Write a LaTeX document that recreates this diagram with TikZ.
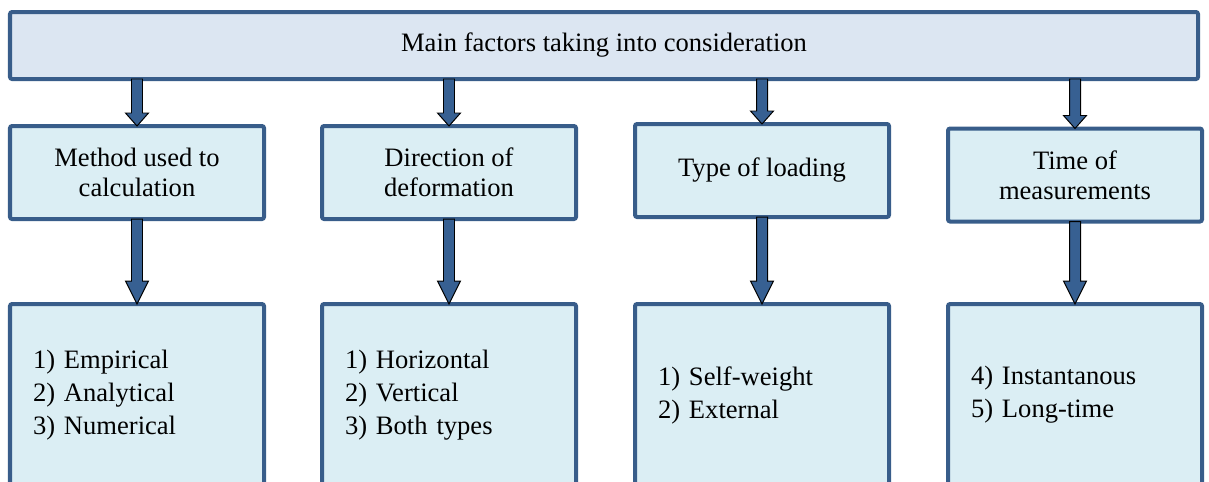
\documentclass[tikz,border=0pt]{standalone}
\usepackage{fontspec}
\IfFontExistsTF{LiberationSerif-Regular.ttf}
  {\setmainfont{LiberationSerif-Regular.ttf}}
  {\setmainfont{DejaVu Serif}}
\usepackage{tikz}
\usetikzlibrary{calc}
\definecolor{boxline}{HTML}{385D8A}
\definecolor{topfill}{HTML}{DCE6F2}
\definecolor{boxfill}{HTML}{DBEEF4}
\definecolor{arrowfill}{HTML}{376092}

% block arrow: #1 start, #2 tip, #3 head length
\newcommand{\blockarr}[3]{%
  \draw[blockarrow] ($(#1)+(-0.1375,0)$) -- ($(#2)+(-0.1375,#3)$)
    -- ($(#2)+(-0.2875,#3)$) -- (#2) -- ($(#2)+(0.2875,#3)$)
    -- ($(#2)+(0.1375,#3)$) -- ($(#1)+(0.1375,0)$) -- cycle;}

\begin{document}
\begin{tikzpicture}[outer sep=0pt,font=\fontsize{18.9}{21.3}\selectfont]
  \tikzstyle{mainbox}=[draw=boxline,fill=topfill,line width=2.85pt,
    rounded corners=1.5pt,minimum width=29.7cm,minimum height=1.675cm]
  \tikzstyle{factor}=[draw=boxline,fill=boxfill,line width=2.85pt,
    rounded corners=1.5pt,minimum width=6.35cm,minimum height=2.325cm,
    align=center]
  \tikzstyle{kinds}=[draw=boxline,fill=boxfill,line width=2.85pt,
    rounded corners=1.5pt,text width=5.2cm,inner xsep=0.575cm,
    minimum height=4.55cm,align=left,
    font=\fontsize{18.9}{23.5}\selectfont]
  \tikzstyle{blockarrow}=[fill=arrowfill,draw=black,line width=0.7pt,
    line join=miter]

  \useasboundingbox (0,0) rectangle (30.225,-12.025);
  \clip (0,0) rectangle (30.225,-12.025);

  \node[mainbox] (top) at (15.1,-1.1375)  {Main factors taking into consideration};

  \node[factor]  (m1) at (3.425,-4.3125)  {Method used to\\calculation};
  \node[factor]  (m2) at (11.225,-4.3125) {Direction of\\deformation};
  \node[factor]  (m3) at (19.05,-4.2625)  {Type of loading};
  \node[factor]  (m4) at (26.875,-4.375)  {Time of\\measurements};

  \node[kinds]   (k1) at (3.425,-9.875)   {1) Empirical\\2) Analytical\\3) Numerical};
  \node[kinds]   (k2) at (11.225,-9.875)  {1) Horizontal\\2) Vertical\\3) Both types};
  \node[kinds]   (k3) at (19.05,-9.875)   {1) Self-weight\\2) External};
  \node[kinds]   (k4) at (26.875,-9.875)  {4) Instantanous\\5) Long-time};

  \foreach \i in {1,...,4}{
    \blockarr{m\i.north |- top.south}{m\i.north}{0.325}
    \blockarr{m\i.south}{k\i.north}{0.575}
  }
\end{tikzpicture}
\end{document}
